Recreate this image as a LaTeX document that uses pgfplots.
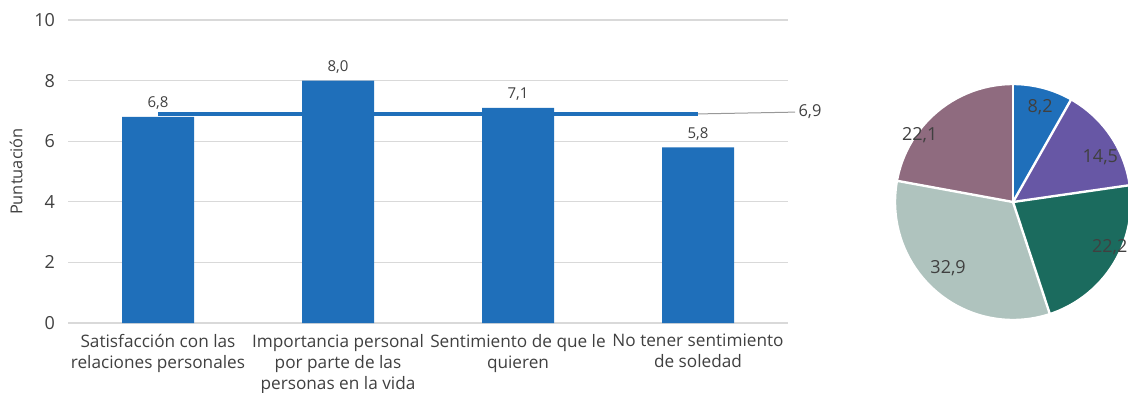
\documentclass[border=0pt]{standalone}
\usepackage{pgfplots}
\pgfplotsset{compat=1.18}
\usepackage{fontspec}
\setmainfont{Open Sans}
\definecolor{barblue}{HTML}{1F6FBA}
\definecolor{pblue}{HTML}{1F6FBA}
\definecolor{ppurple}{HTML}{6757A5}
\definecolor{pgreen}{HTML}{1B6B5E}
\definecolor{plight}{HTML}{AFC3BE}
\definecolor{pmauve}{HTML}{8F6B7F}
\definecolor{txt}{HTML}{404040}
\definecolor{gridc}{HTML}{D9D9D9}
\begin{document}
\begin{tikzpicture}
\useasboundingbox (-34pt,-34.5pt) rectangle (530pt,161.5pt);
\begin{axis}[
  at={(0,0)}, anchor=south west,
  scale only axis, width=360pt, height=151.5pt,
  xmin=-0.5, xmax=3.5, ymin=0, ymax=10,
  ytick={0,2,4,6,8,10},
  xtick={0,1,2,3},
  xticklabels={{Satisfacción con las\\relaciones personales},{Importancia personal\\por parte de las\\personas en la vida},{Sentimiento de que le\\quieren},{No tener sentimiento\\de soledad}},
  xticklabel style={align=center, font=\fontsize{8.6}{10.5}\selectfont, text=txt, yshift=-2pt},
  yticklabel style={font=\fontsize{9}{10}\selectfont, text=txt, xshift=-3pt},
  ylabel={Puntuación}, ylabel style={font=\fontsize{8.2}{9}\selectfont, text=txt, yshift=-1pt},
  /pgf/number format/assume math mode=true,
  ymajorgrids, grid style={gridc, line width=0.6pt},
  axis line style={draw=none},
  axis x line*=bottom,
  x axis line style={draw=gridc, line width=0.6pt},
  major tick length=0pt,
  clip=false,
]
\addplot[ybar, bar width=36pt, fill=barblue, draw=none,
  nodes near coords,
  nodes near coords style={font=\fontsize{7.5}{8}\selectfont, text=txt, /pgf/number format/.cd, fixed, fixed zerofill, precision=1, use comma, assume math mode=true},
] coordinates {(0,6.8) (1,8.0) (2,7.1) (3,5.8)};
\addplot[barblue, line width=1.7pt] coordinates {(0,6.9) (3,6.9)};
\addplot[gray!80, line width=0.5pt] coordinates {(3,6.9) (3.54,6.96)};
\node[anchor=west, font=\fontsize{8.2}{9}\selectfont, text=txt, inner sep=1.5pt] at (axis cs:3.54,6.96) {6,9};
\end{axis}
\begin{axis}[
  at={(472.5pt,60.5pt)}, anchor=center,
  x=59pt, y=59pt, xmin=-1, xmax=1, ymin=-1, ymax=1,
  hide axis, clip=false,
]
\fill[pblue]   (axis cs:0,0) -- (axis cs:0,1) arc[start angle=90, delta angle={-8.2*3.6036}, radius=59pt] -- cycle;
\fill[ppurple] (axis cs:0,0) -- ++({90-8.2*3.6036}:59pt) arc[start angle={90-8.2*3.6036}, delta angle={-14.5*3.6036}, radius=59pt] -- cycle;
\fill[pgreen]  (axis cs:0,0) -- ++({90-22.7*3.6036}:59pt) arc[start angle={90-22.7*3.6036}, delta angle={-22.2*3.6036}, radius=59pt] -- cycle;
\fill[plight]  (axis cs:0,0) -- ++({90-44.9*3.6036}:59pt) arc[start angle={90-44.9*3.6036}, delta angle={-32.9*3.6036}, radius=59pt] -- cycle;
\fill[pmauve]  (axis cs:0,0) -- ++({90-77.8*3.6036}:59pt) arc[start angle={90-77.8*3.6036}, delta angle={-22.1*3.6036}, radius=59pt] -- cycle;
\draw[white, line width=1.2pt] (axis cs:0,0) -- ++(90:59pt);
\draw[white, line width=1.2pt] (axis cs:0,0) -- ++({90-8.2*3.6036}:59pt);
\draw[white, line width=1.2pt] (axis cs:0,0) -- ++({90-22.7*3.6036}:59pt);
\draw[white, line width=1.2pt] (axis cs:0,0) -- ++({90-44.9*3.6036}:59pt);
\draw[white, line width=1.2pt] (axis cs:0,0) -- ++({90-77.8*3.6036}:59pt);
\draw[white, line width=1.2pt] (axis cs:0,0) circle[radius=59pt];
\begin{scope}[every node/.style={font=\fontsize{9}{10}\selectfont, text=txt}]
\node at (axis cs:0.23,0.80) {8,2};
\node at (axis cs:0.74,0.38) {14,5};
\node at (axis cs:0.82,-0.38) {22,2};
\node at (axis cs:-0.55,-0.56) {32,9};
\node at (axis cs:-0.79,0.57) {22,1};
\end{scope}
\end{axis}
\end{tikzpicture}
\end{document}
